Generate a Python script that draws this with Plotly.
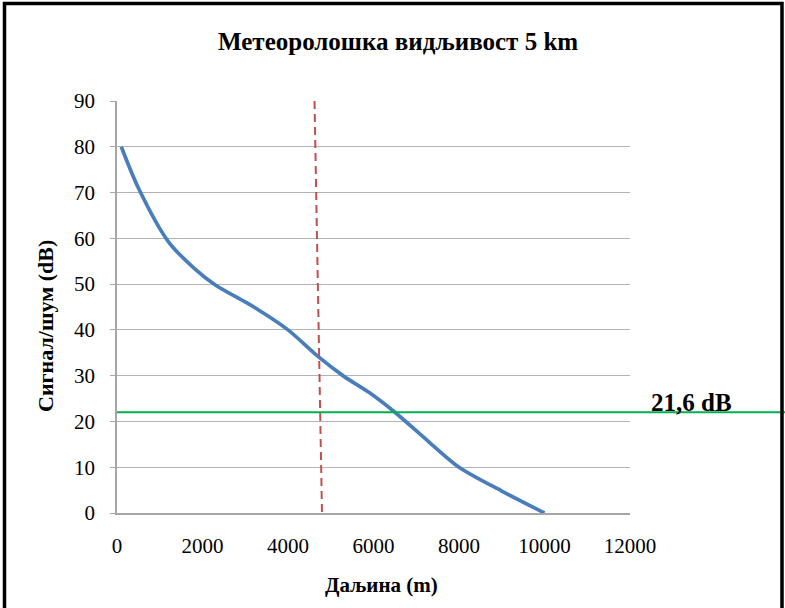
import plotly.graph_objects as go

# Data
distance_m = [100, 500, 1200, 1800, 2300, 3200, 4000, 4700, 5300, 5900, 6500, 7300, 8000, 9000, 10000]
snr_db = [80, 71, 59.3, 53.5, 49.8, 45, 40, 34.2, 29.9, 26.3, 22, 15.5, 10, 4.8, 0]

visibility_x = [4620, 4795]
visibility_y = [90, 0]

threshold_db = 22
threshold_label = "21,6 dB"

x_ticks = [0, 2000, 4000, 6000, 8000, 10000, 12000]
y_ticks = [0, 10, 20, 30, 40, 50, 60, 70, 80, 90]

W, H = 785, 608
L, R, T, B = 117, 630, 101, 513  # plot area pixel bounds

def px(xp):
    return (xp - L) / (R - L)

def py(yp):
    return (B - yp) / (B - T)

FONT = "Liberation Serif, Times New Roman, serif"

fig = go.Figure()
fig.add_trace(go.Scatter(
    x=distance_m, y=snr_db, mode="lines",
    line=dict(color="#4a7ebb", width=3.7, shape="spline", smoothing=0.8),
    showlegend=False, hoverinfo="skip"))
fig.add_trace(go.Scatter(
    x=visibility_x, y=visibility_y, mode="lines",
    line=dict(color="#c0504d", width=2, dash="8px,5px"),
    showlegend=False, hoverinfo="skip"))

fig.update_layout(
    width=W, height=H,
    margin=dict(l=L, r=W - R, t=T, b=H - B, pad=0),
    paper_bgcolor="white", plot_bgcolor="white",
    font=dict(family=FONT, color="black"),
    xaxis=dict(range=[0, 12000], tickvals=x_ticks, ticktext=[str(v) for v in x_ticks],
               showgrid=False, zeroline=False, showline=True, linecolor="#a6a6a6", linewidth=1.5,
               ticks="", tickfont=dict(size=21, family=FONT, color="black"), ticklabelstandoff=13),
    yaxis=dict(range=[0, 90], tickvals=y_ticks, showgrid=True, gridcolor="#b3b3b3", gridwidth=1.3,
               zeroline=False, showline=True, linecolor="#a6a6a6", linewidth=1.5,
               ticks="outside", ticklen=5, tickcolor="#a6a6a6",
               tickfont=dict(size=21, family=FONT, color="black"), ticklabelstandoff=11),
    shapes=[
        dict(type="line", xref="paper", yref="y", x0=0, x1=px(790), y0=threshold_db, y1=threshold_db,
             line=dict(color="#00b050", width=2)),
        dict(type="rect", xref="paper", yref="paper", x0=px(4.5), x1=px(782), y0=py(660), y1=py(3.5),
             line=dict(color="black", width=3.5), fillcolor="rgba(0,0,0,0)"),
    ],
    annotations=[
        dict(text="<b>Метеоролошка видљивост 5 km</b>", xref="paper", yref="paper",
             x=px(398), y=py(41), xanchor="center", yanchor="middle", showarrow=False,
             font=dict(size=25, family=FONT, color="black")),
        dict(text="<b>Даљина (m)</b>", xref="paper", yref="paper",
             x=px(381), y=py(585), xanchor="center", yanchor="middle", showarrow=False,
             font=dict(size=21, family=FONT, color="black")),
        dict(text="<b>Сигнал/шум (dB)</b>", xref="paper", yref="paper",
             x=px(45), y=py(326), xanchor="center", yanchor="middle", showarrow=False,
             textangle=-90, font=dict(size=22, family=FONT, color="black")),
        dict(text="<b>" + threshold_label + "</b>", xref="paper", yref="paper",
             x=px(691), y=py(402), xanchor="center", yanchor="middle", showarrow=False,
             font=dict(size=25, family=FONT, color="black")),
    ],
)

fig.write_html("out.html",
               config={"displayModeBar": False},
               post_script="document.body.style.margin='0';document.body.style.overflow='hidden';")
